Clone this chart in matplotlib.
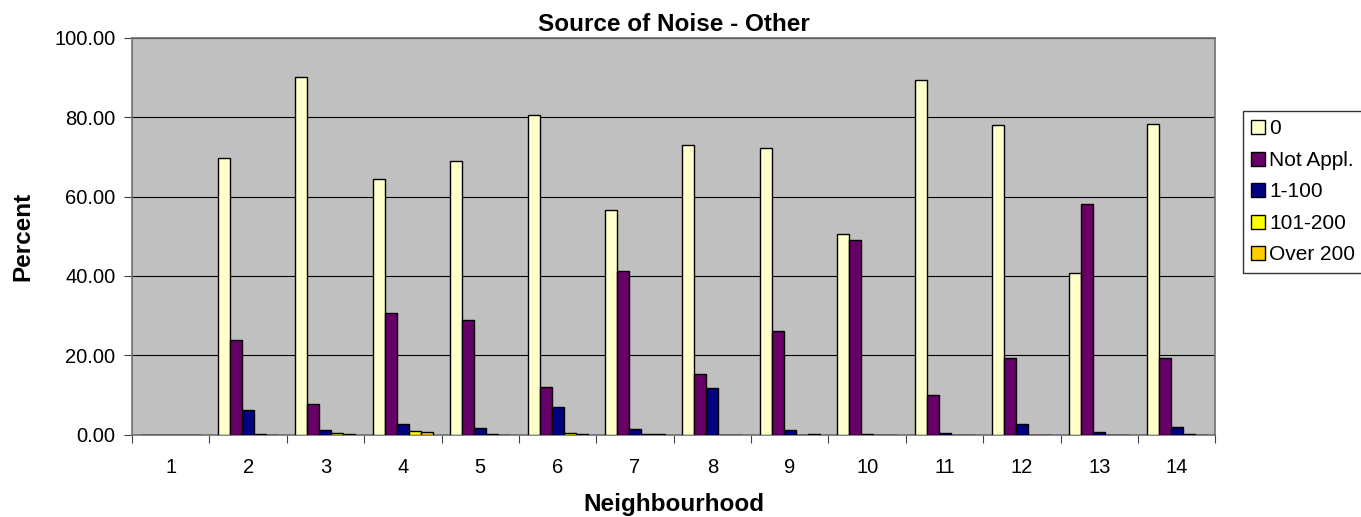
import matplotlib
matplotlib.use("Agg")
import matplotlib.pyplot as plt
import numpy as np
from matplotlib.ticker import FixedLocator, NullFormatter, FormatStrFormatter

plt.rcParams['font.family'] = ['Liberation Sans', 'DejaVu Sans']

neighbourhoods = [str(i) for i in range(1, 15)]
series_names = ["0", "Not Appl.", "1-100", "101-200", "Over 200"]
vals_0 = [0, 69.7, 90.0, 64.5, 69.0, 80.5, 56.7, 73.0, 72.2, 50.6, 89.3, 78.0, 40.8, 78.2]
vals_na = [0, 23.9, 7.7, 30.8, 28.8, 12.0, 41.3, 15.4, 26.2, 49.1, 10.0, 19.3, 58.2, 19.4]
vals_1_100 = [0, 6.2, 1.1, 2.7, 1.8, 6.9, 1.5, 11.7, 1.3, 0.3, 0.4, 2.7, 0.8, 2.0]
vals_101_200 = [0, 0.2, 0.5, 0.9, 0.3, 0.4, 0.2, 0, 0, 0, 0, 0, 0, 0.3]
vals_over200 = [0, 0, 0.25, 0.75, 0, 0.2, 0.2, 0, 0.2, 0, 0, 0, 0, 0]
colors = ["#FFFFCC", "#660066", "#000080", "#FFFF00", "#FFCC00"]

series = [vals_0, vals_na, vals_1_100, vals_101_200, vals_over200]

fig = plt.figure(figsize=(13.61, 5.17), dpi=100)
ax = fig.add_axes([0.097, 0.159, 0.796, 0.768])
ax.set_facecolor("#C0C0C0")

n = len(neighbourhoods)
x = np.arange(n)
w = 0.155
for i, (vals, c, name) in enumerate(zip(series, colors, series_names)):
    ax.bar(x + (i - 2) * w, vals, width=w, color=c, edgecolor="black", linewidth=1.0,
           label=name, zorder=3)

ax.set_xlim(-0.5, n - 0.5)
ax.set_ylim(0, 100)
ax.set_yticks(np.arange(0, 101, 20))
ax.yaxis.set_major_formatter(FormatStrFormatter('%.2f'))
ax.grid(axis='y', color='black', linewidth=0.8, zorder=1)
ax.set_axisbelow(True)

ax.xaxis.set_major_locator(FixedLocator(np.arange(-0.5, n, 1.0)))
ax.xaxis.set_major_formatter(NullFormatter())
ax.xaxis.set_minor_locator(FixedLocator(x))
ax.set_xticklabels(neighbourhoods, minor=True)
ax.tick_params(axis='x', which='minor', length=0, labelsize=14.5, pad=17)
ax.tick_params(axis='x', which='major', length=6, color='#404040', direction='out')
ax.tick_params(axis='y', length=6, labelsize=14.5, color='#404040', pad=6)

for s in ax.spines.values():
    s.set_color('#707070')
    s.set_linewidth(1.2)

ax.set_title("Source of Noise - Other", fontsize=17.5, fontweight='bold', pad=5)
ax.set_xlabel("Neighbourhood", fontsize=17.5, fontweight='bold', labelpad=11)
ax.set_ylabel("Percent", fontsize=17.5, fontweight='bold', labelpad=14)

leg = fig.legend(loc='upper left', bbox_to_anchor=(0.913, 0.785), frameon=True, fancybox=False,
                 edgecolor='black', fontsize=15, handlelength=0.68, handleheight=0.68,
                 handletextpad=0.2, borderpad=0.4, labelspacing=0.6, borderaxespad=0)
leg.get_frame().set_linewidth(1.0)

fig.savefig("out.png", dpi=100)
